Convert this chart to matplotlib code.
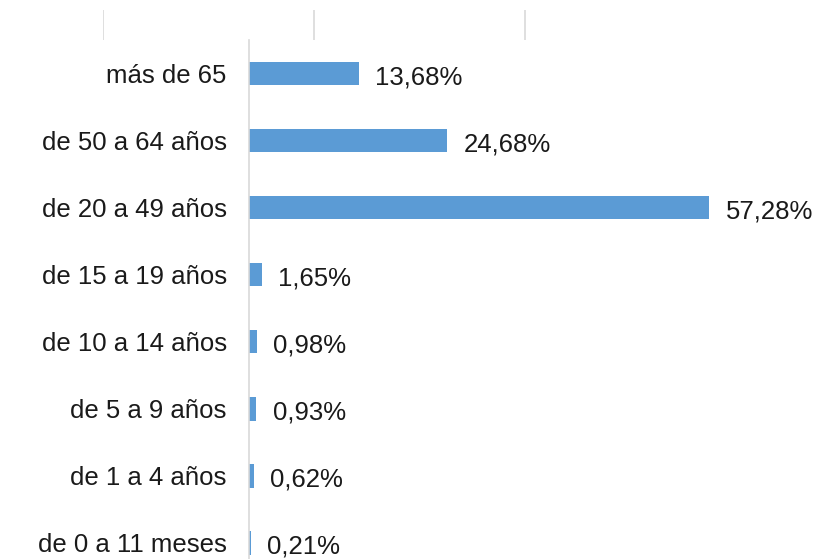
import matplotlib
matplotlib.use("Agg")
import matplotlib.pyplot as plt

# Datos
categorias = ["de 0 a 11 meses", "de 1 a 4 años", "de 5 a 9 años", "de 10 a 14 años",
              "de 15 a 19 años", "de 20 a 49 años", "de 50 a 64 años", "más de 65"]
porcentajes = [0.21, 0.62, 0.93, 0.98, 1.65, 57.28, 24.68, 13.68]
etiquetas = ["0,21%", "0,62%", "0,93%", "0,98%", "1,65%", "57,28%", "24,68%", "13,68%"]

AZUL = "#5B9BD5"
GRIS = "#D9D9D9"
TEXTO = "#1a1a1a"

plt.rcParams["font.family"] = ["Liberation Sans", "DejaVu Sans"]

fig = plt.figure(figsize=(8.15, 5.59), dpi=100)

# eje principal (se extiende por debajo del borde inferior, como en el recorte original)
ax = fig.add_axes([249 / 815, -0.0313, 1 - 249 / 815 - 0.004, 0.960])
y = range(len(categorias))
ax.barh(y, porcentajes, height=0.35, color=AZUL)
for yi, v, txt in zip(y, porcentajes, etiquetas):
    ax.text(v + 2.0, yi - 0.06, txt, va="center", ha="left", fontsize=18.5, color=TEXTO)

ax.set_xlim(0, 70)
ax.set_ylim(-0.5, len(categorias) - 0.5)
ax.set_yticks(list(y))
ax.set_yticklabels(categorias, fontsize=18.5, color=TEXTO)
ax.tick_params(axis="y", length=0, pad=16)
ax.set_xticks([])
for lado in ["top", "right", "bottom"]:
    ax.spines[lado].set_visible(False)
ax.spines["left"].set_color(GRIS)
ax.spines["left"].set_linewidth(1.2)

# restos de la cuadrícula del gráfico superior
ax_top = fig.add_axes([103 / 815, 1 - 40 / 559, 4 * 211 / 815, 30 / 559])
ax_top.set_xlim(0, 4)
for xg in [0, 1, 2]:
    ax_top.axvline(xg, color=GRIS, linewidth=1.2)
ax_top.axis("off")

plt.savefig("out.png", dpi=100)
